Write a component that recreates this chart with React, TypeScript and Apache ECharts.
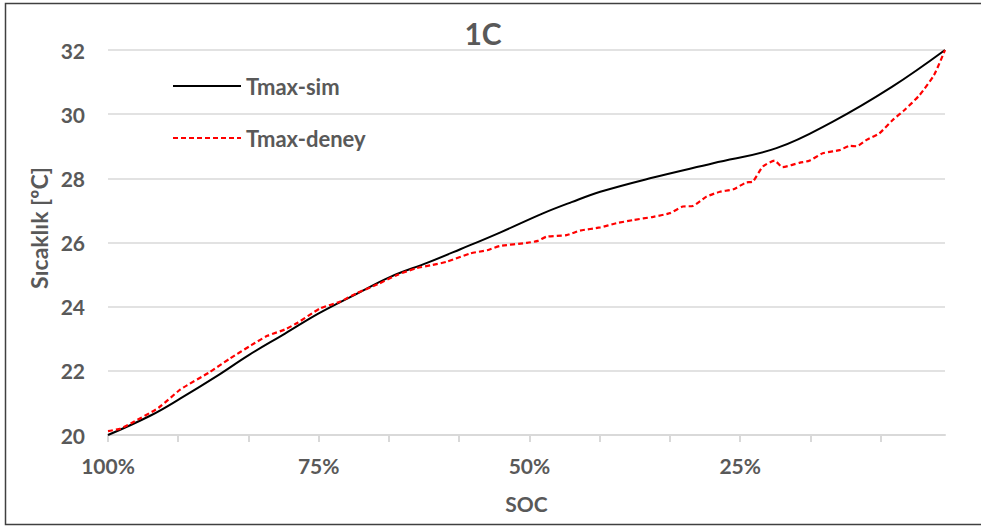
import React, { useEffect, useRef } from "react";
import * as echarts from "echarts";

// SOC (%) and temperature (°C)
const simSoc = [100, 95, 91.4, 87, 83.3, 79, 75, 70.5, 66.5, 62, 58.2, 53.5, 48.4, 45, 41.6, 35.7, 28.2, 20.7, 14.0, 7, 0.7];
const simTemp = [20.0, 20.6, 21.14, 21.85, 22.49, 23.16, 23.79, 24.4, 24.93, 25.38, 25.79, 26.31, 26.91, 27.26, 27.58, 28.0, 28.47, 28.94, 29.77, 30.85, 32.0];

const expSoc = [100, 98.5, 97.3, 94, 91.4, 88, 85.5, 83, 81.1, 79, 77.5, 74.8, 72.5, 70.5, 68, 65.7, 63.4, 61.5, 59.8, 57, 55, 53.5, 50.3, 49, 48, 45.6, 44, 41.6, 39.7, 37.7, 35.3, 33.4, 31.8, 30.6, 29, 27.4, 25.8, 24.3, 23.5, 22.3, 20.9, 20, 17.9, 16.8, 15.2, 13.2, 12, 11.2, 10, 8.5, 6.9, 5.5, 3.7, 2.0, 0.7];
const expTemp = [20.12, 20.2, 20.36, 20.85, 21.42, 21.95, 22.39, 22.8, 23.09, 23.29, 23.5, 23.95, 24.15, 24.42, 24.7, 24.99, 25.2, 25.3, 25.4, 25.66, 25.76, 25.89, 25.99, 26.05, 26.18, 26.23, 26.37, 26.47, 26.6, 26.7, 26.8, 26.91, 27.12, 27.14, 27.43, 27.58, 27.66, 27.87, 27.9, 28.37, 28.55, 28.35, 28.49, 28.55, 28.78, 28.88, 29.01, 29.0, 29.2, 29.4, 29.82, 30.13, 30.6, 31.22, 32.0];

const xTickValues = [100, 91.6667, 83.3333, 75, 66.6667, 58.3333, 50, 41.6667, 33.3333, 25, 16.6667, 8.3333];
const xLabelValues = [100, 75, 50, 25];
const seriesNames = ["Tmax-sim", "Tmax-deney"];
const titleText = "1C";
const xName = "SOC";
const yName = "Sıcaklık [ºC]";

const FONT = "Lato";
const TXT = "#595959";

export default function App() {
  const ref = useRef<HTMLDivElement>(null);
  useEffect(() => {
    if (!ref.current) return;
    const chart = echarts.init(ref.current, undefined, { renderer: "svg" });
    chart.setOption({
      animation: false,
      backgroundColor: "#ffffff",
      textStyle: { fontFamily: FONT },
      grid: { left: 108, right: 36, top: 50, bottom: 91, containLabel: false },
      legend: {
        orient: "vertical",
        left: 172,
        top: 75,
        padding: 0,
        itemWidth: 68,
        itemHeight: 14,
        itemGap: 30,
        data: seriesNames,
        itemStyle: { opacity: 0 },
        textStyle: { fontFamily: FONT, fontSize: 22, fontWeight: "bold", color: TXT, lineHeight: 22 },
      },
      xAxis: {
        type: "value",
        inverse: true,
        min: 0.7,
        max: 100,
        name: xName,
        nameLocation: "middle",
        nameGap: 58,
        nameTextStyle: { fontFamily: FONT, fontSize: 21, fontWeight: "bold", color: TXT },
        axisLine: { show: true, lineStyle: { color: "#d9d9d9", width: 2 } },
        axisTick: { show: true, length: 7, lineStyle: { color: "#d9d9d9", width: 2 }, customValues: xTickValues },
        axisLabel: {
          customValues: xLabelValues,
          formatter: (v: number) => `${Math.round(v)}%`,
          fontFamily: FONT,
          fontSize: 21,
          fontWeight: "bold",
          color: TXT,
          margin: 20,
        },
        splitLine: { show: false },
      },
      yAxis: {
        type: "value",
        min: 20,
        max: 32,
        interval: 2,
        axisLine: { show: false },
        axisTick: { show: false },
        axisLabel: { fontFamily: FONT, fontSize: 21, fontWeight: "bold", color: TXT, margin: 23 },
        splitLine: { show: true, lineStyle: { color: "#d9d9d9", width: 1.5 } },
      },
      series: [
        {
          name: seriesNames[0],
          type: "line",
          data: simSoc.map((s, i) => [s, simTemp[i]]),
          smooth: 0.4,
          symbol: "none",
          showSymbol: false,
          color: "#000000",
          lineStyle: { color: "#000000", width: 2 },
        },
        {
          name: seriesNames[1],
          type: "line",
          data: expSoc.map((s, i) => [s, expTemp[i]]),
          smooth: 0.2,
          symbol: "none",
          showSymbol: false,
          color: "#ff0000",
          lineStyle: { color: "#ff0000", width: 2.2, type: [5, 3] },
        },
      ],
      graphic: [
        {
          type: "polyline",
          silent: true,
          shape: { points: [[1000, 3.5], [5.5, 3.5], [5.5, 524.5], [1000, 524.5]] },
          style: { stroke: "#404040", lineWidth: 1.5, fill: null },
        },
        {
          type: "text",
          x: 483,
          y: 33,
          style: { text: titleText, fontFamily: FONT, fontSize: 30, fontWeight: "bold", fill: TXT, align: "center", verticalAlign: "middle" },
        },
        {
          type: "text",
          x: 39,
          y: 228,
          rotation: Math.PI / 2,
          style: { text: yName, fontFamily: FONT, fontSize: 23, fontWeight: "bold", fill: TXT, align: "center", verticalAlign: "middle" },
        },
      ],
    });
    return () => chart.dispose();
  }, []);
  return (
    <div
      ref={ref}
      style={{ position: "absolute", left: 0, top: 0, width: 981, height: 526 }}
    />
  );
}
